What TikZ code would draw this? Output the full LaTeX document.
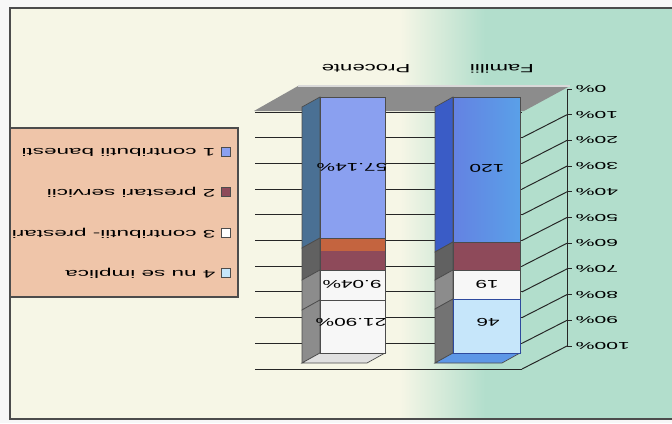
\documentclass[tikz,border=0pt]{standalone}
\usepackage{fontspec}
\setmainfont{Liberation Sans}
\usetikzlibrary{positioning,calc}

\definecolor{cream}{HTML}{F6F6E6}
\definecolor{mint}{HTML}{B2DECC}
\definecolor{peach}{HTML}{EFC5A9}
\definecolor{floorgray}{HTML}{8C8C8C}
\definecolor{periw}{HTML}{8AA0F0}
\definecolor{steel}{HTML}{4A7094}
\definecolor{royal}{HTML}{6482E2}
\definecolor{sky}{HTML}{5AA0E8}
\definecolor{navy}{HTML}{3A5CC6}
\definecolor{maroon}{HTML}{8E4A5A}
\definecolor{rust}{HTML}{C4643F}
\definecolor{paleblue}{HTML}{C6E6FA}

\begin{document}
\begin{tikzpicture}
[x=0.025cm,y=-0.025cm,
txt/.style={rotate=180,inner sep=0pt},
keytxt/.style={txt,font=\fontsize{7.8}{9}\selectfont,xscale=2.05,anchor=west},
axislbl/.style={txt,font=\fontsize{7.2}{8}\selectfont,xscale=2.1,anchor=east},
catlbl/.style={txt,font=\fontsize{8.5}{10}\selectfont,xscale=1.85},
vallbl/.style={txt,font=\fontsize{8}{9}\selectfont,xscale=1.85},
keybox/.style={draw=black!70,line width=0.5pt,minimum size=0.22cm,inner sep=0pt},
wallline/.style={line width=0.7pt,black!85},
face/.style={draw=black!70,line width=0.5pt}]

\useasboundingbox (0,0) rectangle (672,423);
\fill[black!3] (0,0) rectangle (672,423);
\fill[cream] (10,8) rectangle (400,419);
\shade[left color=cream,right color=mint] (400,8) rectangle (485,419);
\fill[mint] (485,8) rectangle (672,419);
\draw[black!70,line width=1.2pt] (672,8) -- (10,8) -- (10,419) -- (672,419);

% legend
\filldraw[fill=peach,draw=black!70,line width=0.9pt] (10,128) rectangle (238,297);
\begin{scope}
\clip (12,130) rectangle (236,295);
\node (key1) [keybox,fill=periw] at (226,152) {};
\node (lab1) [keytxt] at (216,152) {1 contributii banesti};
\node (key2) [keybox,fill=maroon] at (226,192) {};
\node (lab2) [keytxt] at (216,192) {2 prestari servicii};
\node (key3) [keybox,fill=white] at (226,233) {};
\node (lab3) [keytxt] at (216,233) {3 contributii- prestari};
\node (key4) [keybox,fill=paleblue] at (226,273) {};
\node (lab4) [keytxt] at (216,273) {4 nu se implica};
\end{scope}

% floor and walls
\fill[floorgray] (298,86) -- (570,86) -- (524,111) -- (254,111) -- cycle;
\draw[black!15,line width=1pt] (298,86) -- (570,86);
\draw[wallline] (255,112) -- (522,112) (255,137.7) -- (522,137.7)
  (255,163.4) -- (522,163.4) (255,189.1) -- (522,189.1)
  (255,214.8) -- (522,214.8) (255,240.5) -- (522,240.5)
  (255,266.2) -- (522,266.2) (255,291.9) -- (522,291.9)
  (255,317.6) -- (522,317.6) (255,343.3) -- (522,343.3)
  (255,369) -- (522,369);
\draw[wallline] (522,137.7) -- (567,114.7) (522,163.4) -- (567,140.4)
  (522,189.1) -- (567,166.1) (522,214.8) -- (567,191.8)
  (522,240.5) -- (567,217.5) (522,266.2) -- (567,243.2)
  (522,291.9) -- (567,268.9) (522,317.6) -- (567,294.6)
  (522,343.3) -- (567,320.3) (522,369) -- (567,346);
\draw[wallline] (567,89) -- (567,346);
\draw[wallline] (567,89) -- (572,89) (567,114.7) -- (572,114.7)
  (567,140.4) -- (572,140.4) (567,166.1) -- (572,166.1)
  (567,191.8) -- (572,191.8) (567,217.5) -- (572,217.5)
  (567,243.2) -- (572,243.2) (567,268.9) -- (572,268.9)
  (567,294.6) -- (572,294.6) (567,320.3) -- (572,320.3)
  (567,346) -- (572,346);

\node (p0) [axislbl] at (575,89) {0\%};
\node (p10) [axislbl] at (575,114.7) {10\%};
\node (p20) [axislbl] at (575,140.4) {20\%};
\node (p30) [axislbl] at (575,166.1) {30\%};
\node (p40) [axislbl] at (575,191.8) {40\%};
\node (p50) [axislbl] at (575,217.5) {50\%};
\node (p60) [axislbl] at (575,243.2) {60\%};
\node (p70) [axislbl] at (575,268.9) {70\%};
\node (p80) [axislbl] at (575,294.6) {80\%};
\node (p90) [axislbl] at (575,320.3) {90\%};
\node (p100) [axislbl] at (575,346) {100\%};

% Procente
\filldraw[face,fill=steel] (320,97) -- (320,238) -- (302,248) -- (302,107) -- cycle;
\filldraw[face,fill=black!62] (320,238) -- (320,270) -- (302,280) -- (302,248) -- cycle;
\filldraw[face,fill=black!45] (320,270) -- (320,300) -- (302,310) -- (302,280) -- cycle;
\filldraw[face,fill=black!45] (320,300) -- (320,353) -- (302,363) -- (302,310) -- cycle;
\filldraw[face,fill=black!12] (320,353) -- (385,353) -- (367,363) -- (302,363) -- cycle;
\filldraw[face,fill=periw] (320,97) rectangle (385,238);
\fill[rust] (320,238) rectangle (385,251);
\fill[maroon] (320,251) rectangle (385,270);
\draw[face] (320,238) rectangle (385,270);
\filldraw[face,fill=black!3] (320,270) rectangle (385,300);
\filldraw[face,fill=black!3] (320,300) rectangle (385,353);

% Familii
\filldraw[face,fill=navy] (453,97) -- (453,242) -- (435,252) -- (435,107) -- cycle;
\filldraw[face,fill=black!62] (453,242) -- (453,270) -- (435,280) -- (435,252) -- cycle;
\filldraw[face,fill=black!45] (453,270) -- (453,299) -- (435,309) -- (435,280) -- cycle;
\filldraw[face,fill=black!55] (453,299) -- (453,353) -- (435,363) -- (435,309) -- cycle;
\filldraw[face,fill=sky!70!royal] (453,353) -- (520,353) -- (502,363) -- (435,363) -- cycle;
\shade[left color=royal,right color=sky] (453,97) rectangle (520,242);
\draw[face] (453,97) rectangle (520,242);
\filldraw[face,fill=maroon] (453,242) rectangle (520,270);
\filldraw[face,fill=black!3] (453,270) rectangle (520,299);
\filldraw[draw=navy!80!black,line width=0.6pt,fill=paleblue] (453,299) rectangle (520,353);

\node (procente) [catlbl] at (366,69) {Procente};
\node (familii) [catlbl] at (502,69) {Familii};

\node (pv1) [vallbl] at (352,167) {57.14\%};
\node (pv3) [vallbl] at (352,284) {9.04\%};
\node (pv4) [vallbl] at (351,322) {21.90\%};
\node (fv1) [vallbl] at (487,168) {120};
\node (fv3) [vallbl] at (487,284) {19};
\node (fv4) [vallbl] at (488,322) {46};

\end{tikzpicture}
\end{document}
